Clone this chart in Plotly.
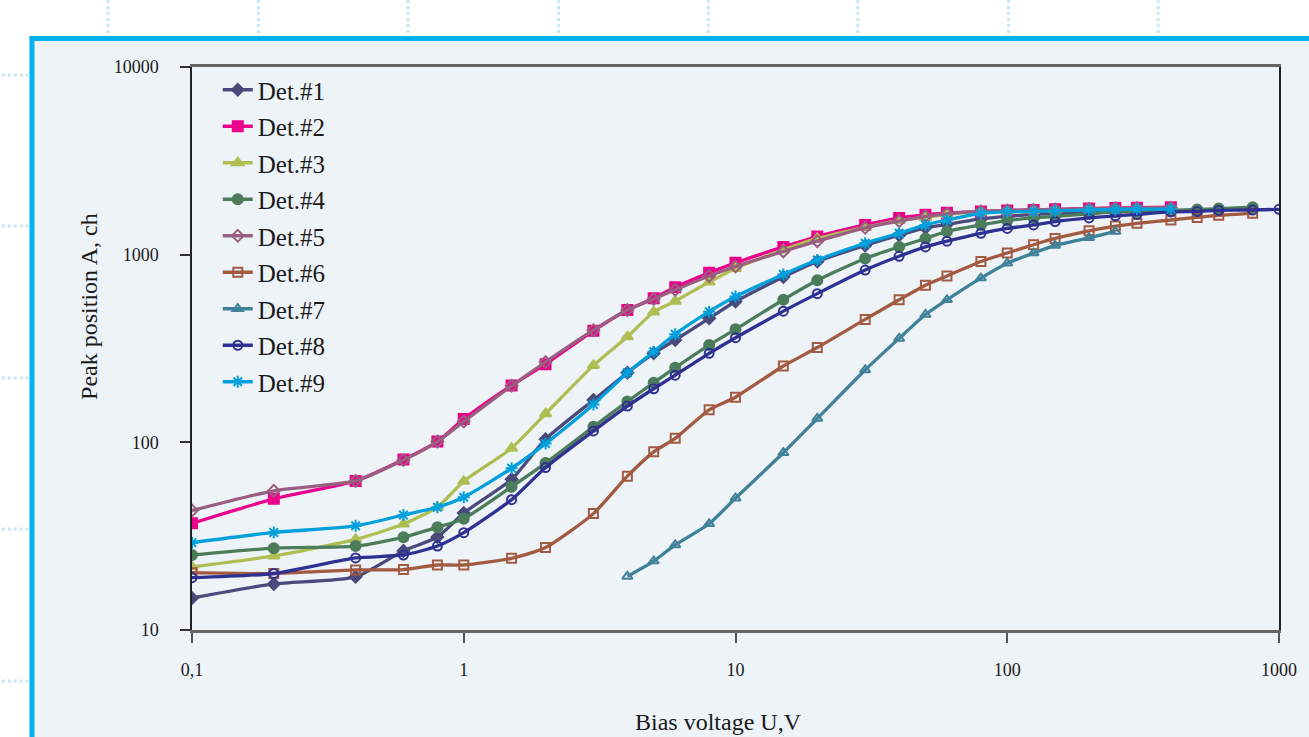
import plotly.graph_objects as go

# ---------------- data ----------------
V_all = [0.1, 0.2, 0.4, 0.6, 0.8, 1, 1.5, 2, 3, 4, 5, 6, 8, 10, 15, 20, 30, 40, 50, 60,
         80, 100, 125, 150, 200, 250, 300, 400, 500, 600, 800, 1000]

V1 = V_all[:28]
A1 = [14.8, 17.6, 19.2, 26.4, 31.3, 42, 63.5, 104, 168, 235, 298, 351, 458, 563, 760, 920,
      1120, 1270, 1390, 1450, 1550, 1600, 1640, 1660, 1690, 1710, 1720, 1730]

V2 = V_all[:28]
A2 = [37, 50, 62.3, 81, 101, 133, 201, 261, 393, 507, 585, 670, 800, 905, 1100, 1250,
      1440, 1570, 1630, 1670, 1700, 1720, 1730, 1745, 1760, 1775, 1780, 1790]

V3 = V_all[:28]
A3 = [21.7, 24.8, 30.4, 36.7, 45.1, 62, 93, 142, 257, 365, 495, 565, 715, 845, 1060, 1220,
      1400, 1520, 1580, 1640, 1690, 1710, 1720, 1730, 1745, 1755, 1760, 1765]

V4 = V_all[:31]
A4 = [25.1, 27.3, 28.0, 31.2, 35.3, 39.2, 58, 77.5, 121, 165, 208, 250, 330, 400, 575, 730,
      955, 1100, 1220, 1330, 1440, 1520, 1570, 1600, 1650, 1690, 1700, 1720, 1740, 1760, 1790]

V5 = V_all[:28]
A5 = [43.3, 55.2, 62.3, 80.5, 101, 129, 200, 268, 396, 507, 580, 650, 770, 865, 1040, 1180,
      1390, 1510, 1600, 1650, 1700, 1720, 1730, 1740, 1755, 1765, 1770, 1780]

V6 = V_all[:31]
A6 = [20.2, 20.0, 20.9, 21.0, 22.2, 22.2, 24.1, 27.5, 41.7, 66, 89, 105, 149, 174, 255, 320,
      452, 575, 688, 770, 920, 1020, 1130, 1220, 1340, 1420, 1470, 1530, 1580, 1620, 1660]

V7 = [4, 5, 6, 8, 10, 15, 20, 30, 40, 50, 60, 80, 100, 125, 150, 200, 250]
A7 = [19.3, 23.3, 28.4, 36.8, 50.4, 88, 134, 243, 358, 480, 575, 750, 900, 1020, 1120, 1230, 1330]

V8 = V_all[:32]
A8 = [19.0, 20.0, 24.2, 25.1, 28.0, 33.0, 49.5, 73.4, 115, 156, 193, 228, 298, 361, 500, 620,
      828, 980, 1100, 1180, 1300, 1380, 1440, 1500, 1570, 1610, 1640, 1690, 1700, 1720, 1730, 1745]

V9 = V_all[:28]
A9 = [29.2, 33.1, 35.9, 41.0, 45.1, 51, 72.8, 98.5, 159, 235, 304, 377, 497, 598, 785, 936,
      1150, 1300, 1440, 1530, 1660, 1690, 1700, 1710, 1730, 1740, 1750, 1750]

names = ["Det.#1", "Det.#2", "Det.#3", "Det.#4", "Det.#5", "Det.#6", "Det.#7", "Det.#8", "Det.#9"]
xs = [V1, V2, V3, V4, V5, V6, V7, V8, V9]
ys = [A1, A2, A3, A4, A5, A6, A7, A8, A9]

x_tickvals = [0.1, 1, 10, 100, 1000]
x_ticktext = ["0,1", "1", "10", "100", "1000"]
y_tickvals = [10, 100, 1000, 10000]
y_ticktext = ["10", "100", "1000", "10000"]

# ---------------- style ----------------
colors = ["#4B4A7C", "#EC008C", "#AFBE52", "#4B7D5B", "#9A5E80",
          "#A25A41", "#3F8199", "#2E3192", "#00A0DC"]
symbols = ["diamond", "square", "triangle-up", "circle", "diamond-open",
           "square-open", "triangle-up-open", "circle-open", "asterisk-open"]
msizes = [9, 10, 10, 10, 9, 9, 9, 9, 10]

SERIF = "Liberation Serif, Times New Roman, serif"
W, H = 1309, 737
L, R, T, B = 192, 20, 67, 107
PW, PH = W - L - R, H - T - B


def px(xp):
    return (xp - L) / PW


def py(yp):
    return (H - B - yp) / PH


fig = go.Figure()
for i in range(9):
    fig.add_trace(go.Scatter(
        x=xs[i], y=ys[i], name=names[i], mode="lines+markers",
        line=dict(color=colors[i], width=3.3, shape="spline", smoothing=0.6),
        marker=dict(symbol=symbols[i], size=msizes[i], color=colors[i],
                    line=dict(color=colors[i], width=2)),
        legendgroup=names[i],
    ))

shapes = []
# framed panel
shapes.append(dict(type="rect", xref="paper", yref="paper",
                   x0=px(30.5), x1=px(1340), y0=py(38.5), y1=py(780),
                   line=dict(color="#00B2EF", width=5), fillcolor="#EEF3F8", layer="below"))
# dotted decorations
for xv in [107, 259, 410, 562, 713, 864, 1016, 1167]:
    shapes.append(dict(type="line", xref="paper", yref="paper",
                       x0=px(xv), x1=px(xv), y0=py(0), y1=py(34),
                       line=dict(color="#C6E5F7", width=3, dash="dot"), layer="below"))
for yv in [75, 226, 378, 529, 681]:
    shapes.append(dict(type="line", xref="paper", yref="paper",
                       x0=px(0), x1=px(27), y0=py(yv), y1=py(yv),
                       line=dict(color="#C6E5F7", width=3, dash="dot"), layer="below"))

annotations = [
    dict(text="Bias voltage U,V", xref="paper", yref="paper", x=px(723), y=py(722),
         showarrow=False, font=dict(family=SERIF, size=24, color="#1a1a1a"),
         xanchor="center", yanchor="middle"),
    dict(text="Peak position A, ch", xref="paper", yref="paper", x=px(88), y=py(306),
         showarrow=False, textangle=-90, font=dict(family=SERIF, size=24, color="#1a1a1a"),
         xanchor="center", yanchor="middle"),
]

fig.update_layout(
    width=W, height=H,
    margin=dict(l=L, r=R, t=T, b=B, pad=0),
    paper_bgcolor="white", plot_bgcolor="#EEF3F8",
    font=dict(family=SERIF, color="#1a1a1a"),
    shapes=shapes, annotations=annotations,
    showlegend=True,
    legend=dict(x=px(218), y=py(67), xanchor="left", yanchor="top",
                bgcolor="rgba(0,0,0,0)", font=dict(family=SERIF, size=25, color="#1a1a1a"),
                tracegroupgap=1, itemwidth=30),
    xaxis=dict(type="log", range=[-1, 3], tickvals=x_tickvals, ticktext=x_ticktext,
               showgrid=False, zeroline=False, showline=True, linewidth=3, linecolor="#666666",
               mirror=True, ticks="outside", ticklen=10, tickwidth=1.5, tickcolor="#555555",
               tickfont=dict(family=SERIF, size=18, color="#1a1a1a"), ticklabelstandoff=11),
    yaxis=dict(type="log", range=[1, 4], tickvals=y_tickvals, ticktext=y_ticktext,
               showgrid=False, zeroline=False, showline=True, linewidth=1.5, linecolor="#222222",
               mirror=True, ticks="outside", ticklen=10, tickwidth=1.5, tickcolor="#333333",
               tickfont=dict(family=SERIF, size=18, color="#1a1a1a"), ticklabelstandoff=18),
)

fig.write_html("out.html")
